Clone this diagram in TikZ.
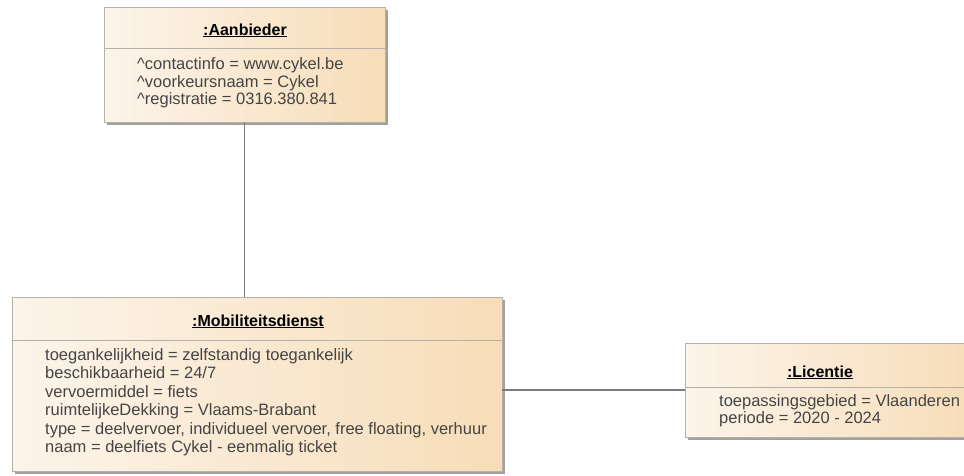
\documentclass[tikz,border=0pt]{standalone}
\usepackage{fontspec}
\setmainfont{Liberation Sans}
\usetikzlibrary{shadows}
\definecolor{fillL}{HTML}{FCF4EA}
\definecolor{fillR}{HTML}{F7DDB8}
\definecolor{boxborder}{HTML}{B4B0AA}
\definecolor{shadowc}{HTML}{9A9794}
\definecolor{attrc}{HTML}{454545}
\definecolor{connc}{HTML}{7C7C7C}
\begin{document}
\begin{tikzpicture}[x=1pt,y=-1pt,
  classbox/.style={draw=boxborder, line width=0.9pt, left color=fillL, right color=fillR,
    inner sep=0pt, outer sep=0pt, anchor=north west,
    drop shadow={shadow xshift=3pt, shadow yshift=-3pt, fill=shadowc, opacity=0.9}},
  septline/.style={draw=boxborder, line width=0.9pt},
  classtitle/.style={font=\fontsize{16}{19}\selectfont\bfseries, text=black, inner sep=0pt, anchor=base},
  attrtext/.style={font=\fontsize{16.5}{19}\selectfont, text=attrc, inner sep=0pt, anchor=base west},
  conn/.style={draw=connc, line width=1.6pt}]
\useasboundingbox (0,0) rectangle (964,475);
\fill[white] (0,0) rectangle (964,475);

% Aanbieder
\node[classbox, minimum width=281pt, minimum height=115pt] (aan) at (104,7) {};
\draw[septline] (aan.west |- 0,48) -- (aan.east |- 0,48);
\node[classtitle] (aant) at (245,35) {\underline{:Aanbieder}};
\node[attrtext] (aan1) at (137,69) {\textasciicircum contactinfo = www.cykel.be};
\node[attrtext] (aan2) at (137,87) {\textasciicircum voorkeursnaam = Cykel};
\node[attrtext] (aan3) at (137,104.5) {\textasciicircum registratie = 0316.380.841};

% Mobiliteitsdienst
\node[classbox, minimum width=490pt, minimum height=174pt] (mob) at (12,297) {};
\draw[septline] (mob.west |- 0,340) -- (mob.east |- 0,340);
\node[classtitle] (mobt) at (258,326) {\underline{:Mobiliteitsdienst}};
\node[attrtext] (mob1) at (45,360) {toegankelijkheid = zelfstandig toegankelijk};
\node[attrtext] (mob2) at (45,378.5) {beschikbaarheid = 24/7};
\node[attrtext] (mob3) at (45,397) {vervoermiddel = fiets};
\node[attrtext] (mob4) at (45,415.5) {ruimtelijkeDekking = Vlaams-Brabant};
\node[attrtext] (mob5) at (45,434) {type = deelvervoer, individueel vervoer, free floating, verhuur};
\node[attrtext] (mob6) at (45,452) {naam = deelfiets Cykel - eenmalig ticket};

% Licentie
\node[classbox, minimum width=290pt, minimum height=94pt] (lic) at (685,343) {};
\draw[septline] (lic.west |- 0,387) -- (lic.east |- 0,387);
\node[classtitle] (lict) at (820,377) {\underline{:Licentie}};
\node[attrtext] (lic1) at (719,406) {toepassingsgebied = Vlaanderen};
\node[attrtext] (lic2) at (719,423) {periode = 2020 - 2024};

% connectors
\draw[conn] (aan.south) -- (aan.south |- mob.north);
\draw[conn] (mob.east |- lic.west) -- (lic.west);
\end{tikzpicture}
\end{document}
